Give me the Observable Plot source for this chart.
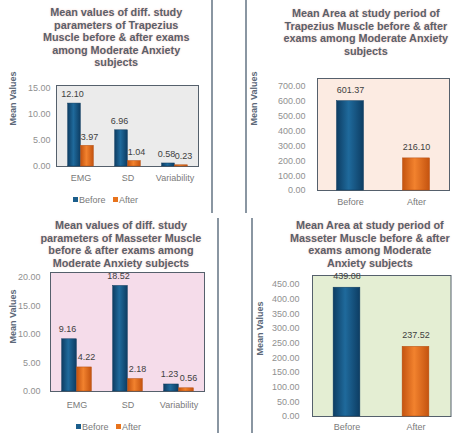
<!DOCTYPE html>
<html>
<head>
<meta charset="utf-8">
<script src="https://cdn.jsdelivr.net/npm/d3@7"></script>
<script src="https://cdn.jsdelivr.net/npm/@observablehq/plot@0.6"></script>
<style>
  html, body { margin: 0; padding: 0; background: #fff; }
  #wrap { position: relative; width: 453px; height: 433px; overflow: hidden; background: #fff; font-family: "Liberation Sans", Arial, sans-serif; }
  .title { position: absolute; text-align: center; font-weight: bold; font-size: 10.8px; line-height: 12.5px; color: #5b606b; white-space: nowrap; text-shadow: 0 0 2px rgba(235,160,140,0.55); }
  .legend { position: absolute; font-size: 9px; color: #7a7a7a; white-space: nowrap; }
  .legend .sw { display: inline-block; width: 5px; height: 5px; margin-right: 1px; vertical-align: 1px; }
  .vline { position: absolute; width: 2px; background: #8a96a2; }
</style>
</head>
<body>
<svg width="0" height="0" style="position:absolute">
  <defs>
    <linearGradient id="gBlue" x1="0" x2="1" y1="0" y2="0">
      <stop offset="0" stop-color="#0d3d63"/>
      <stop offset="0.45" stop-color="#1f6a9c"/>
      <stop offset="1" stop-color="#0d3d63"/>
    </linearGradient>
    <linearGradient id="gOrange" x1="0" x2="1" y1="0" y2="0">
      <stop offset="0" stop-color="#c4530f"/>
      <stop offset="0.45" stop-color="#f2822e"/>
      <stop offset="1" stop-color="#c4530f"/>
    </linearGradient>
  </defs>
</svg>
<div id="wrap"></div>
<script>
// ---------- data ----------
const trapCategories = ["EMG", "SD", "Variability"];
const trapBefore = [12.10, 6.96, 0.58];
const trapAfter = [3.97, 1.04, 0.23];
const trapTicks = [0, 5, 10, 15];

const massCategories = ["EMG", "SD", "Variability"];
const massBefore = [9.16, 18.52, 1.23];
const massAfter = [4.22, 2.18, 0.56];
const massTicks = [0, 5, 10, 15, 20];

const periods = ["Before", "After"];
const trapArea = [601.37, 216.10];
const trapAreaTicks = [0, 100, 200, 300, 400, 500, 600, 700];
const massArea = [439.08, 237.52];
const massAreaTicks = [0, 50, 100, 150, 200, 250, 300, 350, 400, 450];

const titles = [
  ["Mean values of diff. study", "parameters of Trapezius", "Muscle before & after exams", "among Moderate Anxiety", "subjects"],
  ["Mean Area at study period of", "Trapezius Muscle before & after", "exams among Moderate Anxiety", "subjects"],
  ["Mean values of diff. study", "parameters of Masseter Muscle", "before & after exams among", "Moderate Anxiety subjects"],
  ["Mean Area at study period of", "Masseter Muscle before & after", "exams among Moderate", "Anxiety subjects"]
];

const BLUE = "url(#gBlue)", ORANGE = "url(#gOrange)";
const wrap = document.getElementById("wrap");

function place(el, left, top) {
  el.style.position = "absolute";
  el.style.left = left + "px";
  el.style.top = top + "px";
  wrap.appendChild(el);
}

function addTitle(lines, cx, top) {
  const d = document.createElement("div");
  d.className = "title";
  d.innerHTML = lines.map(s => s.replace(/&/g, "&amp;")).join("<br>");
  wrap.appendChild(d);
  d.style.top = top + "px";
  d.style.left = (cx - d.offsetWidth / 2) + "px";
}

function addLegend(left, top) {
  const d = document.createElement("div");
  d.className = "legend";
  d.innerHTML = '<span class="sw" style="background:#1b5e8c"></span>Before&nbsp;&nbsp;&nbsp;<span class="sw" style="background:#e8731c"></span>After';
  d.style.left = left + "px";
  d.style.top = top + "px";
  wrap.appendChild(d);
}

function addVLine(x, top, h) {
  const d = document.createElement("div");
  d.className = "vline";
  d.style.left = x + "px"; d.style.top = top + "px"; d.style.height = h + "px";
  wrap.appendChild(d);
}

const baseStyle = { fontFamily: "Liberation Sans, Arial, sans-serif", fontSize: "9px", background: "transparent", overflow: "visible" };

function groupedChart(o) {
  const data = o.cats.map((c, i) => ({ cat: c, before: o.before[i], after: o.after[i] }));
  const bw = (o.width - o.ml - o.mr) / o.cats.length;
  const w = o.barW;
  return Plot.plot({
    width: o.width, height: o.height,
    marginTop: o.mt, marginBottom: o.mb, marginLeft: o.ml, marginRight: o.mr,
    style: baseStyle,
    x: { type: "band", domain: o.cats, padding: 0 },
    y: { domain: [0, o.ticks[o.ticks.length - 1]] },
    marks: [
      Plot.frame({ fill: o.bg, stroke: "#55606c", strokeWidth: 1, insetTop: o.frameTop }),
      Plot.barY(data, { x: "cat", y: "before", fill: BLUE, stroke: "#0c3a5e", strokeWidth: 0.5, insetLeft: bw / 2 - w, insetRight: bw / 2 }),
      Plot.barY(data, { x: "cat", y: "after", fill: ORANGE, stroke: "#b44c0e", strokeWidth: 0.5, insetLeft: bw / 2, insetRight: bw / 2 - w }),
      Plot.text(data, { x: "cat", y: "before", text: d => d.before.toFixed(2), dx: -w / 2 - 2, dy: o.labelDy, fill: "#404040", fontSize: 9 }),
      Plot.text(data, { x: "cat", y: "after", text: d => d.after.toFixed(2), dx: w / 2 + 2, dy: o.labelDy, fill: "#404040", fontSize: 9 }),
      Plot.axisY({ ticks: o.ticks, tickFormat: d => d.toFixed(2), tickSize: 0, tickPadding: o.tickPad, fill: "#909090", fontSize: 9, label: null }),
      Plot.axisX({ tickSize: 0, tickPadding: o.xPad, fill: "#7a7a7a", fontSize: 9, label: null }),
      Plot.text(["Mean Values"], { frameAnchor: "left", dx: o.yTitleDx, dy: o.yTitleDy || 0, rotate: -90, fill: "#5c6878", fontWeight: "bold", fontSize: 9 })
    ]
  });
}

function singleChart(o) {
  const data = o.cats.map((c, i) => ({ cat: c, value: o.values[i], fill: i === 0 ? BLUE : ORANGE, stroke: i === 0 ? "#0c3a5e" : "#b44c0e" }));
  const bw = (o.width - o.ml - o.mr) / o.cats.length;
  const inset = (bw - o.barW) / 2;
  return Plot.plot({
    width: o.width, height: o.height,
    marginTop: o.mt, marginBottom: o.mb, marginLeft: o.ml, marginRight: o.mr,
    style: baseStyle,
    x: { type: "band", domain: o.cats, padding: 0 },
    y: { domain: [0, o.ticks[o.ticks.length - 1]] },
    marks: [
      Plot.frame({ fill: o.bg, stroke: "#55606c", strokeWidth: 1, insetTop: o.frameTop }),
      Plot.barY(data, { x: "cat", y: "value", fill: d => d.fill, stroke: d => d.stroke, strokeWidth: 0.5, insetLeft: inset, insetRight: inset }),
      Plot.text(data, { x: "cat", y: "value", text: d => d.value.toFixed(2), dy: o.labelDy, fill: "#404040", fontSize: 9 }),
      Plot.axisY({ ticks: o.ticks, tickFormat: d => d.toFixed(2), tickSize: 0, tickPadding: o.tickPad, fill: "#909090", fontSize: 9, label: null }),
      Plot.axisX({ tickSize: 0, tickPadding: o.xPad, fill: "#7a7a7a", fontSize: 9, label: null }),
      Plot.text(["Mean Values"], { frameAnchor: "left", dx: o.yTitleDx, dy: o.yTitleDy || 0, rotate: -90, fill: "#5c6878", fontWeight: "bold", fontSize: 9 })
    ]
  });
}

// Panel 1: Trapezius grouped
place(groupedChart({
  cats: trapCategories, before: trapBefore, after: trapAfter, ticks: trapTicks,
  width: 212, height: 212, mt: 88, mb: 46, ml: 56, mr: 14, barW: 13,
  bg: "#ebebeb", frameTop: -3, labelDy: -9, tickPad: 6, xPad: 8, yTitleDx: -43, yTitleDy: -2
}), 0, 0);
addTitle(titles[0], 116, 6);
addLegend(73, 195);

// Panel 2: Trapezius area
place(singleChart({
  cats: periods, values: trapArea, ticks: trapAreaTicks,
  width: 207, height: 212, mt: 86, mb: 22, ml: 71, mr: 4, barW: 27,
  bg: "#fcebe2", frameTop: -8, labelDy: -11, tickPad: 12, xPad: 8, yTitleDx: -63, yTitleDy: -13
}), 246, 0);
addTitle(titles[1], 366, 7);

// Panel 3: Masseter grouped
place(groupedChart({
  cats: massCategories, before: massBefore, after: massAfter, ticks: massTicks,
  width: 218, height: 221, mt: 65, mb: 42, ml: 50, mr: 14, barW: 15,
  bg: "#f5dcea", frameTop: -5, labelDy: -10, tickPad: 10, xPad: 10, yTitleDx: -37, yTitleDy: 9
}), 0, 212);
addTitle(titles[2], 121, 219);
addLegend(76, 422);

// Panel 4: Masseter area
place(singleChart({
  cats: periods, values: massArea, ticks: massAreaTicks,
  width: 201, height: 221, mt: 72, mb: 17, ml: 60, mr: 2.5, barW: 27,
  bg: "#e4eed3", frameTop: -9, labelDy: -12, tickPad: 13, xPad: 7, yTitleDx: -52, yTitleDy: 5
}), 252, 212);
addTitle(titles[3], 370, 219);

// panel borders
addVLine(211, 0, 213);
addVLine(245, 0, 213);
addVLine(217, 218, 215);
addVLine(251, 218, 215);
</script>
</body>
</html>
